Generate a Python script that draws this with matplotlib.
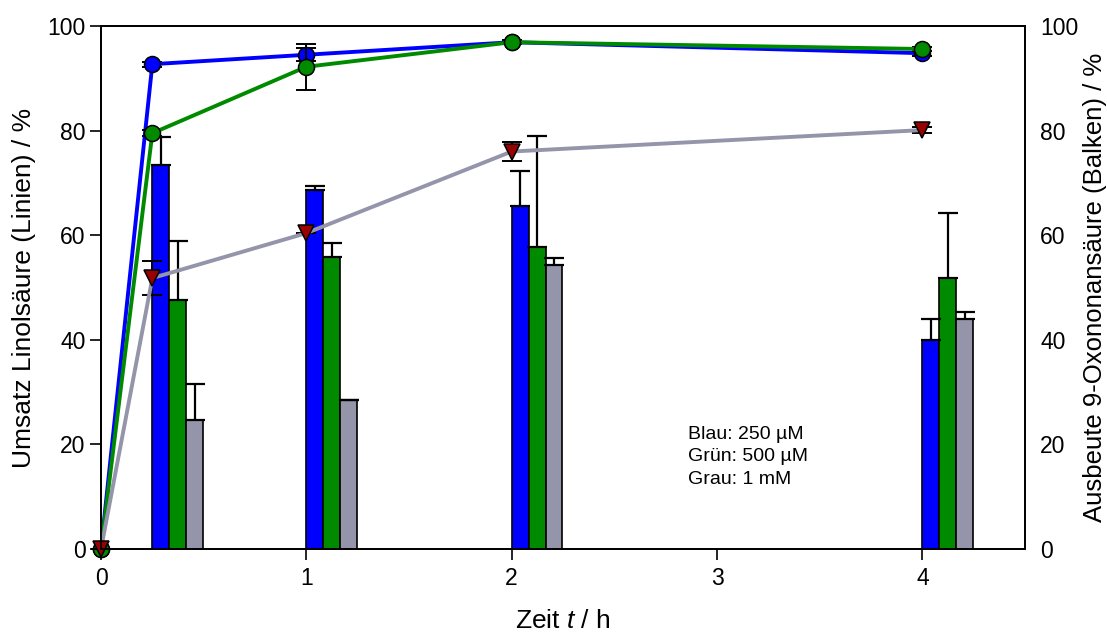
import numpy as np
import matplotlib.pyplot as plt

plt.rcParams['font.family'] = ['Liberation Sans', 'DejaVu Sans']
plt.rcParams['mathtext.fontset'] = 'custom'
plt.rcParams['mathtext.it'] = 'Liberation Sans:italic'
plt.rcParams['mathtext.rm'] = 'Liberation Sans'

# Umsatz Linolsaeure (lines), left axis
t_line = [0, 0.25, 1, 2, 4]
blue_line = [0, 92.7, 94.5, 96.9, 94.8]
blue_line_err = [0, 0.5, 1.2, 0.4, 0.5]
green_line = [0, 79.5, 92.2, 96.9, 95.6]
green_line_err = [0, 0.6, 4.4, 0.4, 0.4]
grey_line = [0, 51.8, 60.4, 76.0, 80.1]
grey_line_err = [0, 3.3, 0.0, 1.8, 0.5]

# Ausbeute 9-Oxononansaeure (bars), right axis
t_bar = [0.25, 1, 2, 4]
blue_bar = [73.4, 68.6, 65.5, 40.0]
blue_bar_err = [5.4, 0.8, 6.7, 3.9]
green_bar = [47.6, 55.8, 57.7, 51.9]
green_bar_err = [11.3, 2.7, 21.3, 12.3]
grey_bar = [24.7, 28.4, 54.3, 44.0]
grey_bar_err = [6.8, 0.0, 1.3, 1.4]

c_blue = '#0000ff'
c_green = '#008a00'
c_grey = '#9494aa'
c_tri = '#990000'

fig = plt.figure(figsize=(11.07, 6.34), dpi=100)
ax = fig.add_axes([101 / 1107, 1 - 549 / 634, 924 / 1107, 523 / 634])
ax2 = ax.twinx()

# bars on the twin axis, underneath the lines
w = 0.0825
x = np.array(t_bar)
for i, (vals, errs, col) in enumerate([(blue_bar, blue_bar_err, c_blue),
                                       (green_bar, green_bar_err, c_green),
                                       (grey_bar, grey_bar_err, c_grey)]):
    xc = x + w * (i + 0.5)
    ax2.bar(xc, vals, width=w, color=col, edgecolor='black', linewidth=1.2)
    ax2.errorbar(xc, vals, yerr=[np.zeros(len(errs)), errs], fmt='none',
                 ecolor='black', elinewidth=1.6, capsize=7, capthick=1.6)

ax.set_zorder(ax2.get_zorder() + 1)
ax.patch.set_visible(False)

for vals, errs, col, mk, mfc in [(blue_line, blue_line_err, c_blue, 'o', c_blue),
                                 (green_line, green_line_err, c_green, 'o', c_green),
                                 (grey_line, grey_line_err, c_grey, 'v', c_tri)]:
    ax.errorbar(t_line, vals, yerr=errs, fmt='none', ecolor='black',
                elinewidth=1.4, capsize=7, capthick=1.4, clip_on=False)
    ax.plot(t_line, vals, color=col, linewidth=2.8, marker=mk,
            markersize=11.5 if mk == 'o' else 11, markerfacecolor=mfc,
            markeredgecolor='black', markeredgewidth=1.1, clip_on=False)

ax.set_xlim(0, 4.5)
ax.set_ylim(0, 100)
ax2.set_ylim(0, 100)
ax.set_xticks([0, 1, 2, 3, 4])
ax.set_yticks([0, 20, 40, 60, 80, 100])
ax2.set_yticks([0, 20, 40, 60, 80, 100])

ax.tick_params(axis='y', direction='out', length=8, width=1.2, labelsize=16.5, pad=3)
ax.tick_params(axis='x', direction='out', length=8, width=1.2, labelsize=16.5, pad=5)
ax2.tick_params(axis='y', length=0, labelsize=16.5, pad=11)
for a in (ax, ax2):
    for s in a.spines.values():
        s.set_linewidth(1.3)

ax.set_xlabel('Zeit $t$ / h', fontsize=19, labelpad=14)
ax.set_ylabel('Umsatz Linolsäure (Linien) / %', fontsize=19, labelpad=8)
ax2.set_ylabel('Ausbeute 9-Oxononansäure (Balken) / %', fontsize=18.5, labelpad=3)

ax.text(2.86, 23.6, 'Blau: 250 µM\nGrün: 500 µM\nGrau: 1 mM', fontsize=14,
        va='top', ha='left', linespacing=1.45)

fig.savefig('out.png', dpi=100)
